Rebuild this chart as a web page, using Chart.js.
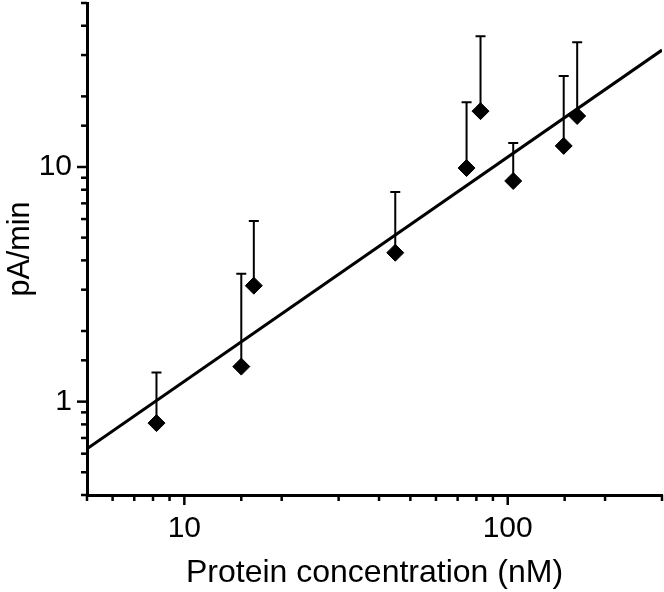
<!DOCTYPE html>
<html>
<head>
<meta charset="utf-8">
<script src="https://cdn.jsdelivr.net/npm/chart.js@4"></script>
<style>
  body { margin: 0; background: #fff; }
  #wrap { width: 664px; height: 592px; }
</style>
</head>
<body>
<div id="wrap"><canvas id="chart" width="664" height="592"></canvas></div>
<script>
// measured points (nM, pA/min) and the upper end of each error bar
const concentration = [8.2, 15.0, 16.4, 44.9, 74.6, 82.4, 104, 149, 164];
const rate = [0.81, 1.41, 3.12, 4.31, 9.9, 17.3, 8.72, 12.3, 16.5];
const rateUpper = [1.33, 3.51, 5.89, 7.83, 18.9, 36.1, 12.65, 24.4, 34.0];

// fitted line end points
const fitX = [5, 300];
const fitY = [0.63, 31.5];

const xTickLabels = [10, 100];
const yTickLabels = [1, 10];

const fontName = "'Liberation Sans', Arial, sans-serif";

// upper error bars with caps, behind the diamonds
const errorBars = {
  id: 'errorBars',
  beforeDatasetsDraw(chart) {
    const ctx = chart.ctx;
    const xs = chart.scales.x, ys = chart.scales.y;
    ctx.save();
    ctx.strokeStyle = '#000';
    ctx.lineWidth = 2;
    for (let i = 0; i < concentration.length; i++) {
      const px = xs.getPixelForValue(concentration[i]);
      const p0 = ys.getPixelForValue(rate[i]);
      const p1 = ys.getPixelForValue(rateUpper[i]);
      ctx.beginPath();
      ctx.moveTo(px, p0);
      ctx.lineTo(px, p1);
      ctx.moveTo(px - 5, p1);
      ctx.lineTo(px + 5, p1);
      ctx.stroke();
    }
    ctx.restore();
  }
};

// outward tick marks, long at decades and short in between
const logTicks = {
  id: 'logTicks',
  afterDraw(chart) {
    const ctx = chart.ctx;
    const xs = chart.scales.x, ys = chart.scales.y;
    const area = chart.chartArea;
    const isDecade = v => Math.abs(Math.log10(v) - Math.round(Math.log10(v))) < 1e-6;
    ctx.save();
    ctx.strokeStyle = '#000';
    ctx.lineWidth = 2.5;
    xs.ticks.forEach(t => {
      const px = xs.getPixelForValue(t.value);
      ctx.beginPath();
      ctx.moveTo(px, area.bottom);
      ctx.lineTo(px, area.bottom + (isDecade(t.value) ? 10 : 6));
      ctx.stroke();
    });
    ys.ticks.forEach(t => {
      const py = ys.getPixelForValue(t.value);
      ctx.beginPath();
      ctx.moveTo(area.left, py);
      ctx.lineTo(area.left - (isDecade(t.value) ? 10 : 6), py);
      ctx.stroke();
    });
    ctx.restore();
  }
};

const ctx = document.getElementById('chart');
new Chart(ctx, {
  type: 'scatter',
  data: {
    datasets: [{
      label: 'Data',
      data: concentration.map((x, i) => ({x: x, y: rate[i]})),
      pointStyle: 'rectRot',
      pointRadius: 8.5,
      pointBorderWidth: 1,
      backgroundColor: '#000',
      borderColor: '#000'
    }, {
      label: 'Fit',
      type: 'line',
      data: fitX.map((x, i) => ({x: x, y: fitY[i]})),
      borderColor: '#000',
      borderWidth: 3,
      pointRadius: 0,
      fill: false
    }]
  },
  options: {
    responsive: false,
    animation: false,
    layout: { autoPadding: false, padding: { top: 3, right: 2, left: 0, bottom: 0 } },
    plugins: {
      legend: { display: false },
      tooltip: { enabled: false }
    },
    scales: {
      x: {
        type: 'logarithmic',
        min: 5,
        max: 300,
        grid: { display: false, drawTicks: false },
        border: { display: true, color: '#000', width: 3 },
        ticks: {
          autoSkip: false,
          maxRotation: 0,
          padding: 16,
          color: '#000',
          font: { family: fontName, size: 30 },
          callback: v => xTickLabels.includes(v) ? String(v) : ''
        },
        title: {
          display: true,
          text: 'Protein concentration (nM)',
          color: '#000',
          font: { family: fontName, size: 32 },
          padding: { top: 0, bottom: 0 }
        },
        afterFit: s => {
          s.height = 97;
          s.paddingLeft = 0;
          s.paddingRight = 0;
        }
      },
      y: {
        type: 'logarithmic',
        min: 0.4,
        max: 50,
        grid: { display: false, drawTicks: false },
        border: { display: true, color: '#000', width: 3 },
        ticks: {
          autoSkip: false,
          padding: 15,
          color: '#000',
          font: { family: fontName, size: 30 },
          callback: v => yTickLabels.includes(v) ? String(v) : ''
        },
        title: {
          display: true,
          text: 'pA/min',
          color: '#000',
          font: { family: fontName, size: 30.5 },
          padding: { top: 2, bottom: 0 }
        },
        afterFit: s => {
          s.width = 87;
          s.paddingTop = 0;
          s.paddingBottom = 0;
        }
      }
    }
  },
  plugins: [errorBars, logTicks]
});
</script>
</body>
</html>
